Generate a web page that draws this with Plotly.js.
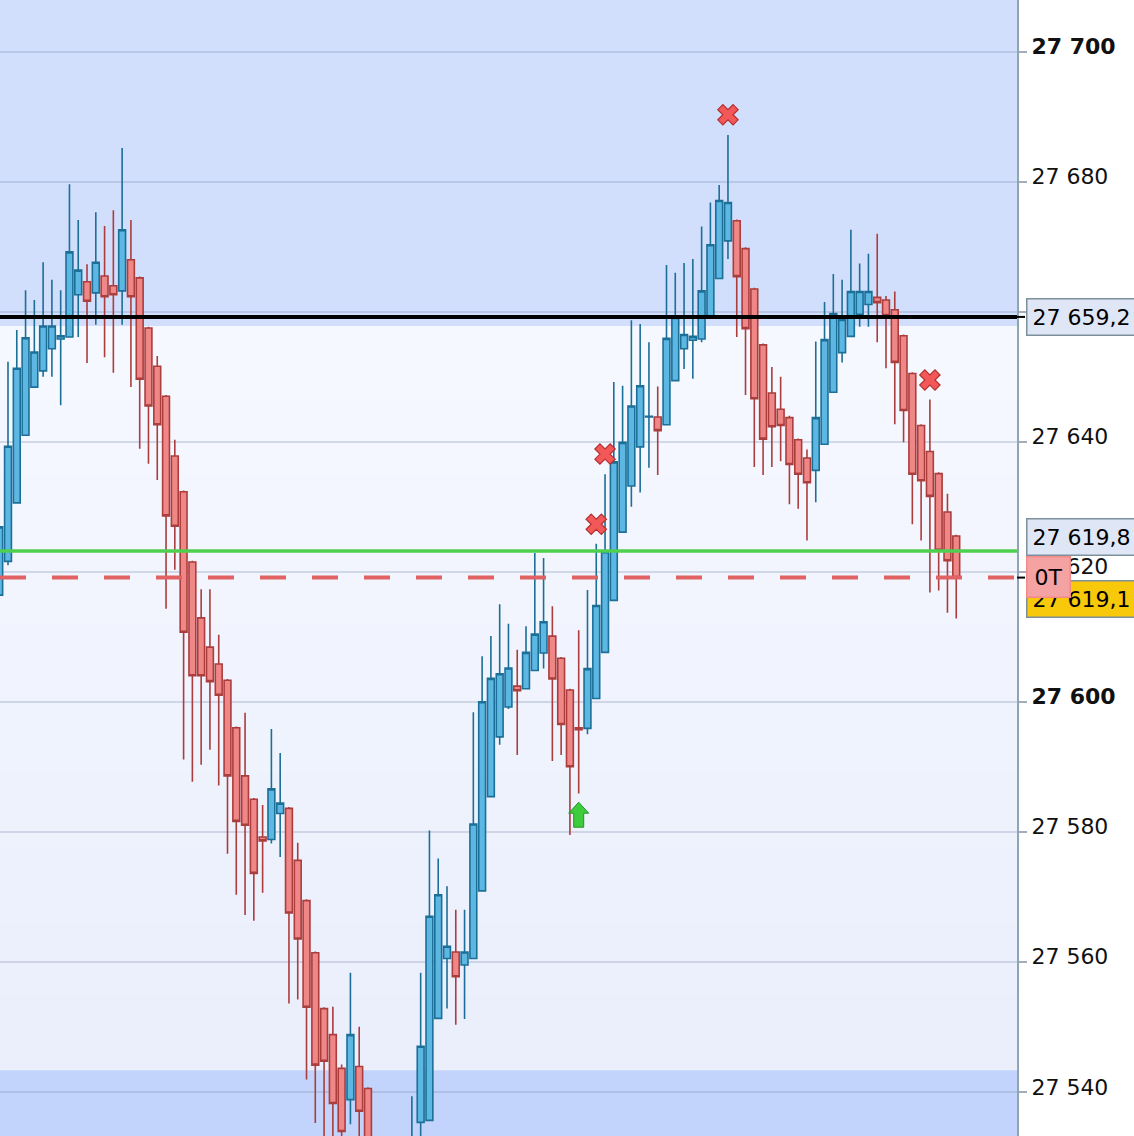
<!DOCTYPE html>
<html><head><meta charset="utf-8">
<script src="https://cdn.plot.ly/plotly-3.0.1.min.js"></script>
<style>html,body{margin:0;padding:0;background:#fff;overflow:hidden;} #chart{width:1134px;height:1136px;}</style>
</head><body><div id="chart"></div>
<script>
// ---- data ----
const openP = [27616.4,27621.6,27630.6,27641.0,27648.4,27650.9,27654.3,27655.8,27656.1,27662.6,
27664.6,27662.9,27665.5,27664.0,27663.2,27668.0,27665.2,27657.5,27651.6,27647.0,
27637.8,27632.3,27621.5,27612.9,27608.4,27605.8,27603.3,27596.0,27588.6,27585.0,
27579.2,27578.8,27582.8,27583.6,27575.6,27569.4,27561.4,27552.8,27548.8,27543.6,
27538.8,27543.9,27540.5,27527,27520,27515,27521,27526,27535.3,27535.6,
27551.3,27560.5,27561.5,27559.5,27560.5,27570.9,27585.4,27594.6,27599.2,27602.4,
27602.0,27604.8,27607.5,27610.1,27606.7,27601.8,27596.0,27595.9,27600.5,27607.6,
27615.6,27626.1,27633.2,27639.2,27643.8,27643.8,27642.6,27649.4,27654.3,27655.6,
27655.8,27659.0,27665.1,27670.9,27674.0,27669.7,27663.5,27654.9,27647.5,27645.0,
27643.7,27640.3,27637.5,27635.6,27639.6,27647.6,27653.7,27656.2,27659.6,27661.1,
27662.2,27661.8,27660.3,27656.3,27650.5,27642.5,27638.5,27635.1,27629.2,27625.5];
const highP = [27636.3,27652.3,27657.2,27663.3,27661.8,27667.6,27664.9,27663.3,27679.6,27674.1,
27667.3,27675.3,27673.2,27675.6,27685.2,27674.1,27665.4,27657.7,27653.2,27647.2,
27640.3,27632.5,27621.7,27617.3,27617.3,27610.3,27603.5,27596.2,27598.3,27585.2,
27584.1,27595.8,27592.1,27583.8,27578.3,27569.6,27561.6,27553.0,27553.1,27544.2,
27558.3,27550.0,27540.7,27531,27525,27527,27530,27539.3,27558.3,27580.2,
27575.9,27571.6,27568.0,27568.0,27598.4,27607.0,27610.1,27615.0,27612.0,27608.0,
27611.6,27622.9,27622.1,27614.7,27606.9,27602.0,27611.0,27617.2,27624.3,27635.0,
27649.2,27648.6,27658.7,27658.1,27655.3,27648.5,27667.2,27666.0,27667.5,27668.1,
27673.1,27676.8,27679.5,27687.2,27674.2,27669.9,27663.7,27655.1,27651.5,27650.0,
27644.0,27640.5,27638.8,27655.4,27661.5,27665.8,27664.9,27672.6,27667.4,27668.9,
27672.0,27662.4,27663.1,27656.5,27650.7,27642.7,27646.5,27635.3,27632.0,27625.7];
const lowP = [27615.8,27621.0,27630.6,27641.0,27648.4,27650.0,27650.0,27645.6,27656.0,27656.1,
27652.1,27658.0,27653.0,27650.6,27658.0,27648.4,27638.9,27636.6,27634.1,27614.3,
27620.3,27591.1,27587.7,27590.3,27592.6,27587.1,27576.6,27570.3,27567.2,27566.3,
27570.6,27578.2,27576.1,27553.6,27554.2,27541.9,27535.2,27528.0,27526.0,27524.0,
27535.0,27530.0,27520.0,27515,27508,27510,27516,27522,27531,27535.6,
27551.3,27552.8,27550.3,27551.2,27560.5,27570.9,27585.4,27593.4,27598.9,27591.8,
27602.0,27604.8,27605.1,27590.9,27591.8,27579.5,27585.9,27595.0,27600.5,27607.6,
27615.6,27626.1,27630.0,27632.2,27636.0,27634.9,27642.6,27649.4,27651.2,27649.7,
27655.3,27659.0,27665.1,27668.1,27656.1,27647.2,27636.1,27634.9,27636.1,27637.0,
27630.4,27629.7,27624.8,27630.7,27639.6,27647.6,27652.2,27656.2,27657.7,27657.7,
27655.3,27651.3,27642.7,27639.9,27627.3,27624.8,27616.8,27617.1,27613.7,27612.8];
const closeP = [27626.9,27639.3,27651.3,27656.0,27653.8,27657.8,27657.8,27656.3,27669.2,27666.4,
27661.6,27667.6,27662.3,27662.6,27672.6,27662.3,27649.6,27645.5,27642.6,27628.6,
27627.0,27610.7,27604.0,27604.0,27603.1,27601.0,27588.6,27581.6,27581.0,27573.6,
27578.6,27586.6,27584.4,27567.5,27563.5,27553.0,27544.1,27544.7,27538.2,27533.9,
27548.8,27537.0,27527.0,27520,27514,27521,27526,27531,27547.0,27567.0,
27570.3,27562.4,27557.7,27561.5,27581.2,27600.0,27603.6,27604.3,27605.2,27601.7,
27607.6,27610.4,27612.3,27603.5,27596.5,27590.0,27595.7,27605.1,27614.8,27623.1,
27636.9,27639.9,27645.5,27648.6,27643.9,27641.7,27655.9,27659.1,27656.5,27656.2,
27663.2,27670.3,27677.1,27676.8,27665.4,27657.4,27646.6,27640.4,27642.3,27642.5,
27636.5,27635.0,27633.7,27643.7,27655.7,27659.7,27658.8,27663.1,27663.1,27663.1,
27661.4,27659.4,27652.2,27644.8,27635.0,27634.0,27631.6,27623.3,27621.7,27619.1];

const signalIdx = [68, 69, 83, 106];
const signalPrice = [27627.3, 27638.1, 27690.3, 27649.5];
const arrowIdx = [66];
const arrowPrice = [27582.7];

const levelBlack = 27659.2;
const levelGreen = 27623.2;
const levelLast = 27619.1;
const bandTopLow = 27657.8;
const bandBottomHigh = 27543.3;

const tickVals = [27540,27560,27580,27600,27620,27640,27660,27680,27700];
const tickText = ['27 540','27 560','27 580','<b>27 600</b>','27 620','27 640','27 660','27 680','<b>27 700</b>'];
const boxLabels = {black:'27 659,2', green:'27 619,8', last:'27 619,1', tag:'0T'};

const yRange = [27533.2, 27707.95];
const xRange = [0.089, 115.92];
// ---- chart ----
const idx = openP.map((_, i) => i);
const FONT = 'DejaVu Sans, Verdana, sans-serif';

const traces = [
  {
    type:'candlestick', x: idx, open: openP, high: highP, low: lowP, close: closeP,
    increasing:{line:{color:'#1c6f97', width:1.6}, fillcolor:'#5cb7e3'},
    decreasing:{line:{color:'#ab3d3d', width:1.6}, fillcolor:'#ef8787'},
    whiskerwidth:0, hoverinfo:'skip', showlegend:false
  },
  {
    type:'scatter', mode:'markers', x: signalIdx, y: signalPrice,
    marker:{symbol:'x', size:18, color:'#f25858', line:{color:'#b52f2f', width:1.2}},
    hoverinfo:'skip', showlegend:false
  }
];

const shapes = [];
// background bands
shapes.push({type:'rect', xref:'paper', yref:'y', x0:0, x1:1, y0:bandTopLow, y1:yRange[1], fillcolor:'#d2dffc', line:{width:0}, layer:'below'});
const nStrips = 10;
for (let k = 0; k < nStrips; k++) {
  const t0 = k / nStrips, t1 = (k + 1) / nStrips;
  const yy0 = bandBottomHigh + (bandTopLow - bandBottomHigh) * t0;
  const yy1 = bandBottomHigh + (bandTopLow - bandBottomHigh) * t1;
  const tm = (t0 + t1) / 2;
  const c0 = [234, 239, 252], c1 = [246, 248, 255];
  const c = c0.map((v, j) => Math.round(v + (c1[j] - v) * tm));
  shapes.push({type:'rect', xref:'paper', yref:'y', x0:0, x1:1, y0:yy0, y1:yy1, fillcolor:`rgb(${c.join(',')})`, line:{width:0}, layer:'below'});
}
shapes.push({type:'rect', xref:'paper', yref:'y', x0:0, x1:1, y0:yRange[0], y1:bandBottomHigh, fillcolor:'#c3d4fc', line:{width:0}, layer:'below'});
// horizontal levels
shapes.push({type:'line', xref:'paper', yref:'y', x0:0, x1:1, y0:levelGreen, y1:levelGreen, line:{color:'#4fcf4f', width:3.5}, layer:'above'});
shapes.push({type:'line', xref:'paper', yref:'y', x0:0, x1:1, y0:levelLast, y1:levelLast, line:{color:'#e06262', width:4, dash:'26px,26px'}, layer:'above'});
shapes.push({type:'line', xref:'paper', yref:'y', x0:0, x1:1, y0:levelBlack, y1:levelBlack, line:{color:'#000', width:4}, layer:'above'});
// small black marks on the price axis
[levelBlack, levelLast].forEach(v => shapes.push({type:'line', xref:'paper', yref:'y', x0:1, x1:1 + 8/1017, y0:v, y1:v, line:{color:'#000', width:2}}));
// green up arrow (pixel-sized glyph anchored at the data point)
arrowIdx.forEach((xi, i) => shapes.push({
  type:'path', xref:'x', yref:'y', xsizemode:'pixel', ysizemode:'pixel', xanchor: xi, yanchor: arrowPrice[i],
  path:'M0,12L10,1L5,1L5,-13L-5,-13L-5,1L-10,1Z', fillcolor:'#3ccc3c', line:{color:'#25912a', width:1}, layer:'above'
}));

function box(text, y, yshift, bg, border, pad) {
  return {xref:'paper', x:1, xshift:9, xanchor:'left', yref:'y', y:y, yanchor:'middle', yshift:yshift,
    text:text, showarrow:false, align:'left', font:{family:FONT, size:22, color:'#000'},
    bgcolor:bg, bordercolor:border, borderwidth:1.5, borderpad:pad};
}
const annotations = [
  box(boxLabels.black, levelBlack, 0, '#dfe6f6', '#7d909c', 5),
  box(boxLabels.green, levelGreen, 14, '#dfe6f6', '#7d909c', 5),
  box(boxLabels.last, levelLast, -21, '#f8c80a', '#7d909c', 5),
  box(boxLabels.tag, levelLast, 1, '#f4a2a2', '#f28a8a', 7)
];

const layout = {
  width:1134, height:1136,
  margin:{l:0, r:117, t:0, b:0, pad:0},
  paper_bgcolor:'#ffffff', plot_bgcolor:'#f0f4fd',
  font:{family:FONT, size:22, color:'#111'},
  showlegend:false, hovermode:false,
  boxgap:0.22, boxgroupgap:0,
  xaxis:{range:xRange, visible:false, showgrid:false, zeroline:false, rangeslider:{visible:false}, fixedrange:true},
  yaxis:{range:yRange, side:'right', tickvals:tickVals, ticktext:tickText, showgrid:true,
    gridcolor:'rgba(130,145,180,0.30)', gridwidth:2, zeroline:false,
    showline:true, linecolor:'#8fa5b3', linewidth:2, ticks:'outside', ticklen:8, tickwidth:2, tickcolor:'#a5adbb',
    ticklabelshift:-5,
    tickfont:{family:FONT, size:22, color:'#111'}, fixedrange:true},
  shapes:shapes, annotations:annotations
};
Plotly.newPlot('chart', traces, layout, {staticPlot:true, displayModeBar:false});
</script></body></html>
